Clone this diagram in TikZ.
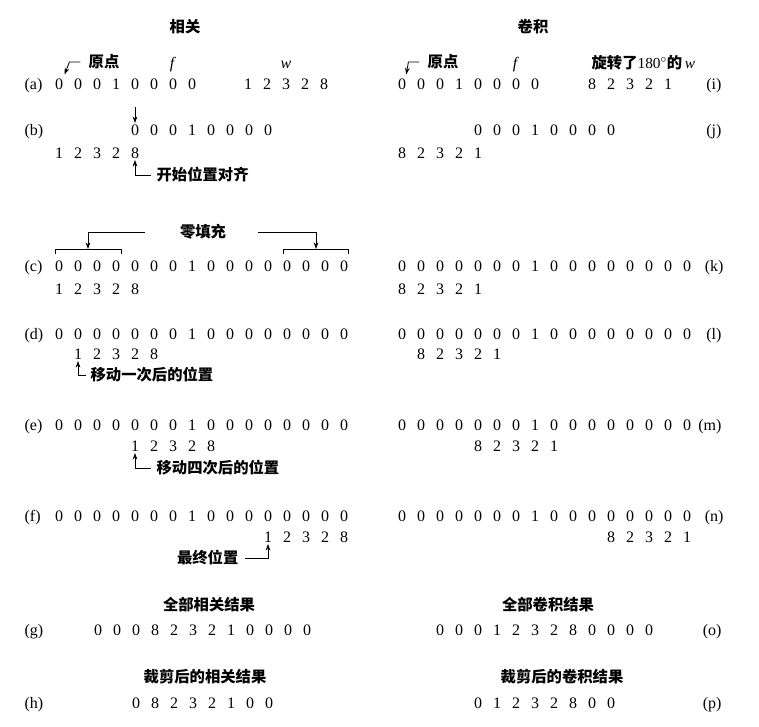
\documentclass[tikz,border=0pt]{standalone}
\usepackage{fontspec}
\setmainfont{Liberation Serif}
\newfontfamily\cjk{Noto Sans CJK SC}
\usetikzlibrary{arrows.meta}

\tikzstyle{num}=[inner sep=1pt, text height=8pt, text depth=0pt, font=\fontsize{12}{14}\selectfont]
\tikzstyle{tag}=[inner sep=1pt, text height=8pt, text depth=0pt, font=\fontsize{12}{14}\selectfont]
\tikzstyle{note}=[inner sep=1pt, font=\cjk\bfseries\fontsize{11.5}{13}\selectfont]
\tikzstyle{head}=[inner sep=1pt, font=\cjk\bfseries\fontsize{11.5}{13}\selectfont]
\tikzstyle{ptr}=[line width=0.6pt, -{Stealth[length=5pt,width=3.5pt]}]
\tikzstyle{brk}=[line width=0.6pt]

\begin{document}
\begin{tikzpicture}[x=0.75pt,y=-0.75pt]
        \useasboundingbox (0,0) rectangle (759,726);

        \node[head] (corr) at (185,27) {相关};
        \node[head] (conv) at (533,27) {卷积};
        %
        % correlation
        \node[note] (oa) at (104,62) {原点};
        \node[num,font=\fontsize{12}{14}\selectfont\itshape] (af) at (172,63) {f};
        \node[num,font=\fontsize{12}{14}\selectfont\itshape] (aw) at (286,63) {w};
        \node[tag,anchor=west] (ta) at (23,84) {(a)};
        \foreach \v [count=\k] in {0,0,0,1,0,0,0,0}
            \node[num] (a\k) at ({59+19*(\k-1)},84) {\v};
        \foreach \v [count=\k] in {1,2,3,2,8}
            \node[num] (aw\k) at ({248+19*(\k-1)},84) {\v};

        \node[tag,anchor=west] (tb) at (23,130) {(b)};
        \foreach \v [count=\k] in {0,0,0,1,0,0,0,0}
            \node[num] (b\k) at ({135+19*(\k-1)},130) {\v};
        \foreach \v [count=\k] in {1,2,3,2,8}
            \node[num] (bw\k) at ({59+19*(\k-1)},153) {\v};
        \coordinate (bdn) at (135,107);
        \node[note,anchor=west] (bnote) at (155,175) {开始位置对齐};

        \node[note] (pad) at (203,232) {零填充};
        \coordinate (lb) at (88,249);
        \coordinate (rb) at (316,249);
        \node[tag,anchor=west] (tc) at (23,266) {(c)};
        \foreach \v [count=\k] in {0,0,0,0,0,0,0,1,0,0,0,0,0,0,0,0}
            \node[num] (c\k) at ({59+19*(\k-1)},266) {\v};
        \foreach \v [count=\k] in {1,2,3,2,8}
            \node[num] (cw\k) at ({59+19*(\k-1)},289) {\v};

        \node[tag,anchor=west] (td) at (23,334) {(d)};
        \foreach \v [count=\k] in {0,0,0,0,0,0,0,1,0,0,0,0,0,0,0,0}
            \node[num] (d\k) at ({59+19*(\k-1)},334) {\v};
        \foreach \v [count=\k] in {1,2,3,2,8}
            \node[num] (dw\k) at ({78+19*(\k-1)},354) {\v};
        \node[note,anchor=west] (dnote) at (89,375) {移动一次后的位置};

        \node[tag,anchor=west] (te) at (23,425) {(e)};
        \foreach \v [count=\k] in {0,0,0,0,0,0,0,1,0,0,0,0,0,0,0,0}
            \node[num] (e\k) at ({59+19*(\k-1)},425) {\v};
        \foreach \v [count=\k] in {1,2,3,2,8}
            \node[num] (ew\k) at ({135+19*(\k-1)},446) {\v};
        \node[note,anchor=west] (enote) at (155,468) {移动四次后的位置};

        \node[tag,anchor=west] (tf) at (23,516) {(f)};
        \foreach \v [count=\k] in {0,0,0,0,0,0,0,1,0,0,0,0,0,0,0,0}
            \node[num] (f\k) at ({59+19*(\k-1)},516) {\v};
        \foreach \v [count=\k] in {1,2,3,2,8}
            \node[num] (fw\k) at ({268+19*(\k-1)},537) {\v};
        \node[note,anchor=east] (fnote) at (240,558) {最终位置};

        \node[head] (gh) at (209,605) {全部相关结果};
        \node[tag,anchor=west] (tg) at (23,630) {(g)};
        \foreach \v [count=\k] in {0,0,0,8,2,3,2,1,0,0,0,0}
            \node[num] (g\k) at ({98+19*(\k-1)},630) {\v};
        \node[head] (hh) at (205,677) {裁剪后的相关结果};
        \node[tag,anchor=west] (th) at (23,703) {(h)};
        \foreach \v [count=\k] in {0,8,2,3,2,1,0,0}
            \node[num] (h\k) at ({136+19*(\k-1)},703) {\v};
        %
        % convolution
        \node[note] (oi) at (443,62) {原点};
        \node[num,font=\fontsize{12}{14}\selectfont\itshape] (iff) at (515,63) {f};
        \node[note,anchor=west] (rot) at (590,63) {旋转了{\rmfamily\bfseries\mdseries 180$^\circ$}的\,{\rmfamily\mdseries\itshape w}};
        \foreach \v [count=\k] in {0,0,0,1,0,0,0,0}
            \node[num] (i\k) at ({402+19*(\k-1)},84) {\v};
        \foreach \v [count=\k] in {8,2,3,2,1}
            \node[num] (iw\k) at ({592+19*(\k-1)},84) {\v};
        \node[tag,anchor=east] (ti) at (723,84) {(i)};

        \foreach \v [count=\k] in {0,0,0,1,0,0,0,0}
            \node[num] (j\k) at ({478+19*(\k-1)},130) {\v};
        \foreach \v [count=\k] in {8,2,3,2,1}
            \node[num] (jw\k) at ({402+19*(\k-1)},153) {\v};
        \node[tag,anchor=east] (tj) at (723,130) {(j)};

        \foreach \v [count=\k] in {0,0,0,0,0,0,0,1,0,0,0,0,0,0,0,0}
            \node[num] (k\k) at ({402+19*(\k-1)},266) {\v};
        \foreach \v [count=\k] in {8,2,3,2,1}
            \node[num] (kw\k) at ({402+19*(\k-1)},289) {\v};
        \node[tag,anchor=east] (tk) at (725,266) {(k)};

        \foreach \v [count=\k] in {0,0,0,0,0,0,0,1,0,0,0,0,0,0,0,0}
            \node[num] (l\k) at ({402+19*(\k-1)},334) {\v};
        \foreach \v [count=\k] in {8,2,3,2,1}
            \node[num] (lw\k) at ({421+19*(\k-1)},354) {\v};
        \node[tag,anchor=east] (tl) at (723,334) {(l)};

        \foreach \v [count=\k] in {0,0,0,0,0,0,0,1,0,0,0,0,0,0,0,0}
            \node[num] (m\k) at ({402+19*(\k-1)},425) {\v};
        \foreach \v [count=\k] in {8,2,3,2,1}
            \node[num] (mw\k) at ({478+19*(\k-1)},446) {\v};
        \node[tag,anchor=east] (tm) at (723,425) {(m)};

        \foreach \v [count=\k] in {0,0,0,0,0,0,0,1,0,0,0,0,0,0,0,0}
            \node[num] (n\k) at ({402+19*(\k-1)},516) {\v};
        \foreach \v [count=\k] in {8,2,3,2,1}
            \node[num] (nw\k) at ({611+19*(\k-1)},537) {\v};
        \node[tag,anchor=east] (tn) at (725,516) {(n)};

        \node[head] (oh) at (548,605) {全部卷积结果};
        \foreach \v [count=\k] in {0,0,0,1,2,3,2,8,0,0,0,0}
            \node[num] (o\k) at ({440+19*(\k-1)},630) {\v};
        \node[tag,anchor=east] (to) at (723,630) {(o)};
        \node[head] (ph) at (562,677) {裁剪后的卷积结果};
        \foreach \v [count=\k] in {0,1,2,3,2,8,0,0}
            \node[num] (p\k) at ({478+19*(\k-1)},703) {\v};
        \node[tag,anchor=east] (tp) at (723,703) {(p)};
        %
        \draw[ptr] ([xshift=-5pt]oa.west) -- ++(-11,0) -- ([yshift=2pt]a1.north east);
        \draw[ptr] ([xshift=-5pt]oi.west) -- ++(-11,0) -- ([yshift=2pt,xshift=-1pt]i1.north east);
        \draw[ptr] (bdn) -- (b1.north);
        \draw[ptr] ([xshift=-3pt]bnote.west) -| (bw5.south);
        \draw[ptr] ([xshift=-25pt]pad.west) -| (lb);
        \draw[ptr] ([xshift=23pt]pad.east) -| (rb);
        \draw[brk] (55,254) -- (55,249) -- (121,249) -- (121,254);
        \draw[brk] (283,254) -- (283,249) -- (348,249) -- (348,254);
        \draw[ptr] ([xshift=-2pt]dnote.west) -| (dw1.south);
        \draw[ptr] ([xshift=-3pt]enote.west) -| (ew1.south);
        \draw[ptr] ([xshift=4pt]fnote.east) -| (fw1.south);
\end{tikzpicture}
\end{document}
